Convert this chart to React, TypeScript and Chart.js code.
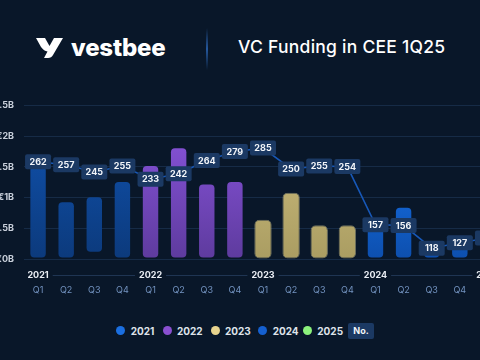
import React, { useEffect, useRef } from "react";
import { Chart, registerables } from "chart.js";
Chart.register(...registerables);

const quarters = ["Q1","Q2","Q3","Q4","Q1","Q2","Q3","Q4","Q1","Q2","Q3","Q4","Q1","Q2","Q3","Q4","Q1"];
const years = ["2021","2021","2021","2021","2022","2022","2022","2022","2023","2023","2023","2023","2024","2024","2024","2024","2025"];
const fundingLow = [0,0,0.1,0,0,0,0,0,0,0,0,0,0,0,0,0,0];
const fundingHigh = [1.53,0.94,1.02,1.27,1.53,1.82,1.23,1.27,0.64,1.08,0.55,0.55,0.6,0.85,0.21,0.33,0.45];
const dealCounts = [262,257,245,255,233,242,264,279,285,250,255,254,157,156,118,127,135];
const yTickValues = [0,0.5,1,1.5,2,2.5];
const legendYears = ["2021","2022","2023","2024","2025"];
const legendColors = ["#1b6fe0","#8a50d0","#e8d48e","#1560d0","#8cf27c"];
const barTop: Record<string,string> = {"2021":"#0f4ea6","2022":"#8250d2","2023":"#c9b97a","2024":"#1774ee","2025":"#2f7a3a"};
const barBottom: Record<string,string> = {"2021":"#0c3a7c","2022":"#5e3b9e","2023":"#aa9d62","2024":"#0d4fae","2025":"#1d4a2a"};

const BG = "#091729";
const FONT = "Inter, 'DejaVu Sans', sans-serif";

const overlayPlugin = {
  id: "overlay",
  afterDraw(chart: any) {
    const { ctx, chartArea } = chart;
    const xs = chart.scales.x;
    ctx.save();
    ctx.textAlign = "center";
    ctx.textBaseline = "middle";
    // quarter labels
    ctx.font = "9px " + FONT;
    ctx.fillStyle = "#7393c0";
    quarters.forEach((q, i) => {
      ctx.fillText(q, xs.getPixelForValue(i), chartArea.bottom + 31);
    });
    // year group labels
    ctx.font = "bold 9px " + FONT;
    const yy = chartArea.bottom + 16;
    const starts: number[] = [];
    years.forEach((y, i) => { if (i === 0 || years[i - 1] !== y) starts.push(i); });
    starts.forEach((si, k) => {
      const x = xs.getPixelForValue(si);
      const label = years[si];
      ctx.fillStyle = "#e9edf3";
      ctx.fillText(label, x, yy);
      const w = ctx.measureText(label).width;
      if (k < starts.length - 1) {
        const nx = xs.getPixelForValue(starts[k + 1]);
        const nw = ctx.measureText(years[starts[k + 1]]).width;
        ctx.strokeStyle = "rgba(60,90,135,0.45)";
        ctx.lineWidth = 1;
        ctx.beginPath();
        ctx.moveTo(x + w / 2 + 4, yy + 0.5);
        ctx.lineTo(nx - nw / 2 - 4, yy + 0.5);
        ctx.stroke();
      }
    });
    // count labels
    const meta = chart.getDatasetMeta(1);
    ctx.font = "bold 9px " + FONT;
    meta.data.forEach((pt: any, i: number) => {
      const bw = 26, bh = 15;
      const x = pt.x, y = pt.y;
      ctx.fillStyle = "#1b3963";
      ctx.beginPath();
      (ctx as any).roundRect(x - bw / 2, y - bh / 2, bw, bh, 2);
      ctx.fill();
      ctx.fillStyle = "#f2f5f9";
      ctx.fillText(String(dealCounts[i]), x, y + 0.5);
    });
    ctx.restore();
  },
};

function ChartView() {
  const ref = useRef<HTMLCanvasElement>(null);
  useEffect(() => {
    const canvas = ref.current!;
    const chart = new Chart(canvas, {
      type: "bar",
      data: {
        labels: quarters,
        datasets: [
          {
            type: "bar",
            data: fundingHigh.map((h, i) => [fundingLow[i], h]) as any,
            backgroundColor: (c: any) => {
              const ca = c.chart.chartArea;
              const yr = years[c.dataIndex] || "2021";
              if (!ca) return barTop[yr];
              const g = c.chart.ctx.createLinearGradient(0, ca.top + 40, 0, ca.bottom);
              g.addColorStop(0, barTop[yr]);
              g.addColorStop(1, barBottom[yr]);
              return g;
            },
            borderColor: (c: any) => years[c.dataIndex] === "2023" ? "rgba(235,222,160,0.45)" : "rgba(0,0,0,0)",
            borderWidth: 1,
            borderRadius: 5,
            borderSkipped: false,
            barPercentage: 0.62,
            categoryPercentage: 1,
            yAxisID: "y",
            order: 2,
          } as any,
          {
            type: "line",
            data: dealCounts,
            borderColor: "#1758b8",
            borderWidth: 1.6,
            pointRadius: 0,
            tension: 0,
            yAxisID: "y2",
            order: 1,
            clip: false,
          } as any,
        ],
      },
      options: {
        responsive: false,
        animation: false,
        layout: { padding: { top: 12, right: 0, bottom: 0, left: 0 } },
        plugins: { legend: { display: false }, tooltip: { enabled: false } },
        scales: {
          x: {
            grid: { display: false, drawTicks: false },
            border: { display: false },
            ticks: { display: false },
            afterFit(s: any) { s.height = 51; s.paddingLeft = 0; s.paddingRight = 0; },
          },
          y: {
            min: 0,
            max: 2.5,
            afterBuildTicks(s: any) { s.ticks = yTickValues.map((v) => ({ value: v })); },
            grid: { color: "rgba(50,80,125,0.35)", drawTicks: false, lineWidth: 1 },
            border: { display: false },
            ticks: {
              color: "#c9d0db",
              font: { size: 9, weight: "bold", family: FONT },
              padding: 10,
              callback: (v: any) => "€" + v + "B",
            },
            afterFit(s: any) { s.width = 44; },
          },
          y2: { display: false, min: 100, max: 356 },
        },
      } as any,
      plugins: [overlayPlugin],
    });
    return () => chart.destroy();
  }, []);
  return (
    <canvas
      ref={ref}
      width={522}
      height={220}
      style={{ position: "absolute", left: -20, top: 90, width: 522, height: 220 }}
    />
  );
}

const dotX = [120.7, 167, 215, 262.7, 307.3];

export default function App() {
  return (
    <div style={{ position: "fixed", left: 0, top: 0, width: 480, height: 360, overflow: "hidden", background: BG, fontFamily: FONT }}>
      <svg style={{ position: "absolute", left: 36, top: 38 }} width="27" height="20" viewBox="0 0 27 20">
        <path d="M0 0 H9 L13.5 8 L18 0 H27 L17 17 Q15.5 20 12 20 H8 L11.5 13.5 Q8 13 5 9 Z" fill="#ffffff" />
      </svg>
      <div style={{ position: "absolute", left: 71, top: 36, fontSize: 24, lineHeight: "24px", fontWeight: 800, color: "#ffffff", letterSpacing: -0.2 }}>vestbee</div>
      <div style={{ position: "absolute", left: 206, top: 28, width: 1.5, height: 42, background: "linear-gradient(rgba(30,80,150,0), rgba(40,95,170,0.9), rgba(30,80,150,0))" }} />
      <div style={{ position: "absolute", left: 238, top: 38, fontSize: 17.5, lineHeight: "18px", fontWeight: 500, color: "#ffffff", whiteSpace: "nowrap", letterSpacing: 0.25 }}>VC Funding in CEE 1Q25</div>
      <ChartView />
      {legendYears.map((y, i) => (
        <React.Fragment key={y}>
          <div style={{ position: "absolute", left: dotX[i] - 4.5, top: 326.2, width: 9, height: 9, borderRadius: "50%", background: legendColors[i] }} />
          <div style={{ position: "absolute", left: dotX[i] + 10, top: 325, fontSize: 10, lineHeight: "12px", fontWeight: 700, color: "#dfe3ea" }}>{y}</div>
        </React.Fragment>
      ))}
      <div style={{ position: "absolute", left: 348, top: 323, width: 26, height: 16, background: "#1b3963", borderRadius: 2, color: "#f2f5f9", fontSize: 9, fontWeight: 700, lineHeight: "16px", textAlign: "center" }}>No.</div>
    </div>
  );
}
